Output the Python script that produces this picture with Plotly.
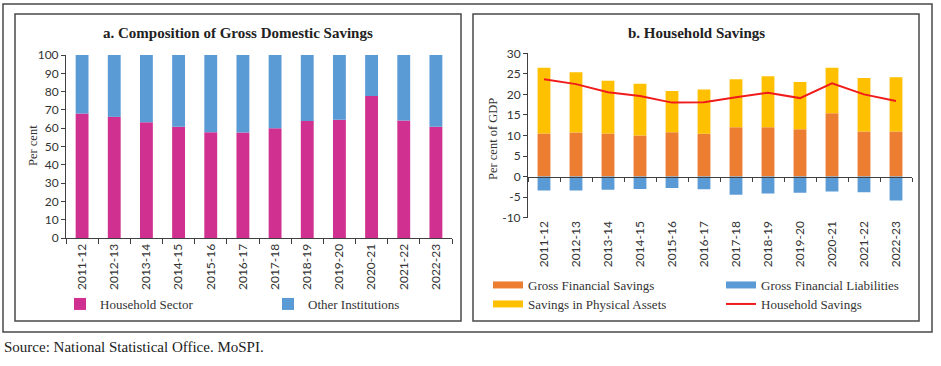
import plotly.graph_objects as go

# ---------------- data ----------------
years = ["2011-12", "2012-13", "2013-14", "2014-15", "2015-16", "2016-17",
         "2017-18", "2018-19", "2019-20", "2020-21", "2021-22", "2022-23"]

household_sector = [68.0, 66.2, 63.3, 60.8, 57.8, 57.6, 60.0, 63.9, 64.6, 77.6, 64.2, 60.8]
other_institutions = [round(100 - v, 1) for v in household_sector]

gross_financial_savings = [10.5, 10.7, 10.5, 10.0, 10.8, 10.4, 12.0, 12.0, 11.5, 15.4, 11.0, 11.0]
savings_physical_assets = [16.0, 14.7, 12.8, 12.6, 10.0, 10.8, 11.7, 12.4, 11.5, 11.1, 13.0, 13.2]
gross_financial_liabilities = [-3.4, -3.4, -3.2, -3.0, -2.8, -3.1, -4.4, -4.1, -3.9, -3.6, -3.8, -5.8]
household_savings = [23.7, 22.5, 20.5, 19.6, 18.0, 18.1, 19.3, 20.4, 19.1, 22.7, 20.0, 18.4]

ya_vals = [0, 10, 20, 30, 40, 50, 60, 70, 80, 90, 100]
ya_text = [str(v) for v in ya_vals]
yb_vals = [-10, -5, 0, 5, 10, 15, 20, 25, 30]
yb_text = [str(v) for v in yb_vals]

# ---------------- style ----------------
W, H = 941, 366
MAGENTA = "#D0308F"
BLUE = "#5B9BD5"
ORANGE = "#ED7D31"
YELLOW = "#FFC000"
RED = "#F01C1C"
AXIS = "#404040"
TXT = "#333333"
SERIF = "Liberation Serif"
SANS = "Lato"


def px_x(p):
    return p / W


def px_y(p):
    return 1 - p / H


fig = go.Figure()

# Panel a
fig.add_trace(go.Bar(x=years, y=household_sector, name="Household Sector",
                     marker=dict(color=MAGENTA, line=dict(width=0)), width=0.4,
                     xaxis="x", yaxis="y", legend="legend"))
fig.add_trace(go.Bar(x=years, y=other_institutions, name="Other Institutions",
                     marker=dict(color=BLUE, line=dict(width=0)), width=0.4,
                     xaxis="x", yaxis="y", legend="legend2"))

# Panel b
fig.add_trace(go.Bar(x=years, y=gross_financial_savings, name="Gross Financial Savings",
                     marker=dict(color=ORANGE, line=dict(width=0)), width=0.4,
                     xaxis="x2", yaxis="y2", showlegend=False))
fig.add_trace(go.Bar(x=years, y=gross_financial_liabilities, name="Gross Financial Liabilities",
                     marker=dict(color=BLUE, line=dict(width=0)), width=0.4,
                     xaxis="x2", yaxis="y2", showlegend=False))
fig.add_trace(go.Bar(x=years, y=savings_physical_assets, name="Savings in Physical Assets",
                     marker=dict(color=YELLOW, line=dict(width=0)), width=0.4,
                     xaxis="x2", yaxis="y2", showlegend=False))
fig.add_trace(go.Scatter(x=years, y=household_savings, name="Household Savings",
                         mode="lines", line=dict(color=RED, width=2),
                         xaxis="x3", yaxis="y2", showlegend=False))

# legend swatches for panel b (wide rectangles), one legend per entry
legend_b = [("Gross Financial Savings", ORANGE, 7, "legend3"),
            ("Gross Financial Liabilities", BLUE, 7, "legend4"),
            ("Savings in Physical Assets", YELLOW, 7, "legend5"),
            ("Household Savings", RED, 2, "legend6")]
for nm, col, w, lg in legend_b:
    fig.add_trace(go.Scatter(x=[None], y=[None], mode="lines", name=nm,
                             line=dict(color=col, width=w),
                             xaxis="x2", yaxis="y2", legend=lg, showlegend=True))

# domains
xa_dom = [px_x(66), px_x(452)]
ya_dom = [px_y(238), px_y(55)]
xb_dom = [px_x(528), px_x(912)]
yb_dom = [px_y(217.7), px_y(53.3)]
yb_range = [-10, 30]
zero_pos = yb_dom[0] + (0 - yb_range[0]) / (yb_range[1] - yb_range[0]) * (yb_dom[1] - yb_dom[0])

tickfont = dict(family=SANS, size=12, color=TXT)
common_x = dict(type="category", categoryorder="array", categoryarray=years,
                range=[-0.5, 11.5], tickangle=-90, tickfont=tickfont,
                showgrid=False, zeroline=False, automargin=False)

legfont = dict(family=SERIF, size=13, color=TXT)


def leg(xp, yp):
    return dict(orientation="h", x=px_x(xp), y=px_y(yp), xanchor="left", yanchor="middle",
                font=legfont, bgcolor="rgba(0,0,0,0)", borderwidth=0)


fig.update_layout(
    width=W, height=H,
    margin=dict(l=0, r=0, t=0, b=0, pad=0, autoexpand=False),
    paper_bgcolor="white", plot_bgcolor="white",
    barmode="relative", bargap=0.6,
    xaxis=dict(domain=xa_dom, anchor="y", showline=True, linecolor=AXIS, linewidth=1,
               ticks="outside", ticklen=5, tickcolor=AXIS, tickson="boundaries", **common_x),
    yaxis=dict(domain=ya_dom, anchor="x", range=[0, 100], tickvals=ya_vals, ticktext=ya_text,
               showline=True, linecolor=AXIS, linewidth=1, ticks="outside", ticklen=4,
               tickcolor=AXIS, showgrid=False, zeroline=False, tickfont=tickfont, automargin=False),
    xaxis2=dict(domain=xb_dom, anchor="y2", showline=False, ticks="", **common_x),
    xaxis3=dict(overlaying="x2", anchor="free", position=zero_pos, showline=True,
                linecolor=AXIS, linewidth=1, ticks="outside", ticklen=4, tickcolor=AXIS,
                tickson="boundaries", showticklabels=False, **common_x),
    yaxis2=dict(domain=yb_dom, anchor="x2", range=yb_range, tickvals=yb_vals, ticktext=yb_text,
                showline=True, linecolor=AXIS, linewidth=1, ticks="outside", ticklen=4,
                tickcolor=AXIS, showgrid=False, zeroline=False, tickfont=tickfont, automargin=False),
    legend=leg(60, 304),
    legend2=leg(268, 304),
    legend3=leg(488, 285),
    legend4=leg(721, 285),
    legend5=leg(488, 304),
    legend6=leg(721, 304),
    showlegend=True,
)

# frames
shape_line = dict(color="#4a4a4a", width=1.5)
fig.add_shape(type="rect", xref="paper", yref="paper", x0=px_x(3), x1=px_x(932),
              y0=px_y(332), y1=px_y(4), line=shape_line, layer="below")
fig.add_shape(type="rect", xref="paper", yref="paper", x0=px_x(15), x1=px_x(461),
              y0=px_y(321), y1=px_y(14), line=shape_line, layer="below")
fig.add_shape(type="rect", xref="paper", yref="paper", x0=px_x(473), x1=px_x(919),
              y0=px_y(321), y1=px_y(14), line=shape_line, layer="below")

# titles, axis titles and source
title_font = dict(family=SERIF, size=15, color="#222222")
fig.add_annotation(text="<b>a. Composition of Gross Domestic Savings</b>", xref="paper", yref="paper",
                   x=px_x(238), y=px_y(33), xanchor="center", yanchor="middle",
                   showarrow=False, font=title_font)
fig.add_annotation(text="<b>b. Household Savings</b>", xref="paper", yref="paper",
                   x=px_x(696), y=px_y(33), xanchor="center", yanchor="middle",
                   showarrow=False, font=title_font)
axis_title_font = dict(family=SERIF, size=12.5, color=TXT)
fig.add_annotation(text="Per cent", xref="paper", yref="paper", textangle=-90,
                   x=px_x(33), y=px_y(146), xanchor="center", yanchor="middle",
                   showarrow=False, font=axis_title_font)
fig.add_annotation(text="Per cent of GDP", xref="paper", yref="paper", textangle=-90,
                   x=px_x(493), y=px_y(139), xanchor="center", yanchor="middle",
                   showarrow=False, font=axis_title_font)
fig.add_annotation(text="Source: National Statistical Office. MoSPI.", xref="paper", yref="paper",
                   x=px_x(2), y=px_y(347), xanchor="left", yanchor="middle",
                   showarrow=False, font=dict(family=SERIF, size=15, color="#222222"))

# remove the default 8px page margin so the figure sits at the window's top-left corner
fig.write_html("out.html", config={"displayModeBar": False},
               post_script="document.body.style.margin='0px';")
